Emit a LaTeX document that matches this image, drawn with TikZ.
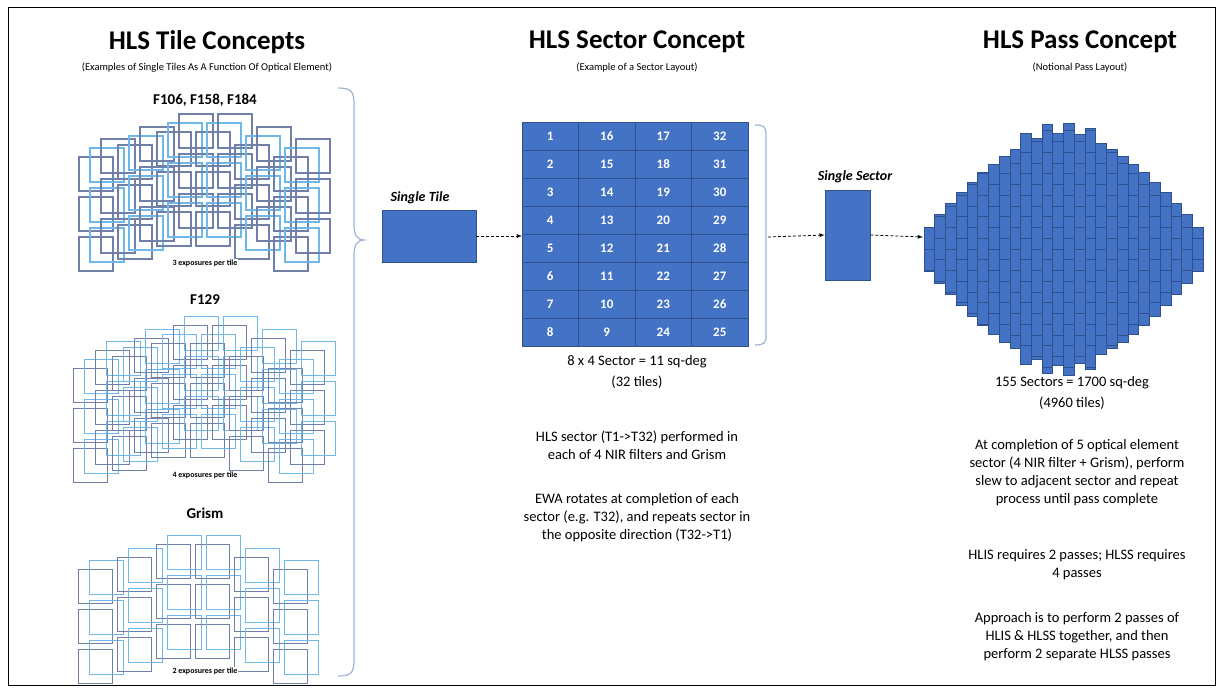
\documentclass[tikz,border=0pt]{standalone}
\usepackage{fontspec}
\setmainfont{Carlito}
\begin{document}
\begin{tikzpicture}[x=1pt,y=-1pt,
  dark/.style={draw=slate,line width=1.1pt},
  light/.style={draw=lightb,line width=1.1pt},
  blk/.style={fill=hlsblue,draw=hlsedge,line width=0.6pt},
  darr/.style={densely dashed,line width=0.8pt,-latex},
  body/.style={font=\fontsize{14.5}{18}\selectfont,align=center},
  ttl/.style={font=\fontsize{27}{30}\selectfont\bfseries},
  sub/.style={font=\fontsize{10.5}{12}\selectfont},
  flt/.style={font=\fontsize{15}{18}\selectfont\bfseries},
  expo/.style={font=\fontsize{8}{10}\selectfont\bfseries},
  lbl/.style={font=\fontsize{14}{16}\selectfont\bfseries\itshape},
  num/.style={font=\fontsize{13}{15}\selectfont\bfseries,text=white}]
\definecolor{hlsblue}{HTML}{4472C4}
\definecolor{hlsedge}{HTML}{2F528F}
\definecolor{slate}{HTML}{7080A8}
\definecolor{lightb}{HTML}{70B8E8}
\definecolor{brc}{HTML}{9FB3D6}
\useasboundingbox (0,0) rectangle (1223,693);
\draw[line width=1pt] (8,8) rectangle (1215,685);
% titles
\node[ttl] (t1) at (207,42) {HLS Tile Concepts};
\node[sub] (s1) at (207,68) {(Examples of Single Tiles As A Function Of Optical Element)};
\node[ttl] (t2) at (637,42) {HLS Sector Concept};
\node[sub] (s2) at (637,68) {(Example of a Sector Layout)};
\node[ttl] (t3) at (1080,42) {HLS Pass Concept};
\node[sub] (s3) at (1080,68) {(Notional Pass Layout)};
% tile patterns
\newcommand\TilePat[3]{% x0, y0, exposures
  \foreach \cc/\dy in {0/25,1/13,2/0,3/0,4/13,5/25}{
    \foreach \e in {1,...,#3}{
      \foreach \rr in {0,1,2}{
        \pgfmathsetmacro\tx{#1+\cc*39+(\e-1)*11-((#3-1)*5.5)}
        \pgfmathsetmacro\ty{#2+\dy+\rr*40-(\e-1)*9+((#3-1)*4.5)}
        \pgfmathtruncatemacro\odd{mod(\e,2)}
        \ifnum\odd=1
          \draw[dark] (\tx,\ty) rectangle ({\tx+34},{\ty+34});
        \else
          \draw[light] (\tx,\ty) rectangle ({\tx+34},{\ty+34});
        \fi
      }
    }
  }}
\node[flt] (f1) at (205,100) {F106, F158, F184};
\TilePat{90}{123}{3}
\node[expo,fill=white,inner sep=1pt] (e1) at (205,263) {3 exposures per tile};
\node[flt] (f2) at (205,300) {F129};
\TilePat{90}{330}{4}
\node[expo,fill=white,inner sep=1pt] (e2) at (205,475) {4 exposures per tile};
\node[flt] (f3) at (205,513) {Grism};
\TilePat{84}{540}{2}
\node[expo,fill=white,inner sep=1pt] (e3) at (205,671) {2 exposures per tile};
% brace
\draw[brc,line width=1.2pt] (338,88) .. controls (352,88) and (354,92) .. (354,105)
  -- (354,225) .. controls (354,236) and (358,240) .. (364,240)
  .. controls (358,240) and (354,244) .. (354,255)
  -- (354,660) .. controls (354,672) and (352,676) .. (338,676);
% single tile
\node[lbl] (stl) at (420,198) {Single Tile};
\node[blk,minimum width=94pt,minimum height=52pt,inner sep=0pt] (st) at (429,236) {};
% sector grid
\foreach \r/\a/\b/\cc/\d in {0/1/16/17/32,1/2/15/18/31,2/3/14/19/30,3/4/13/20/29,4/5/12/21/28,5/6/11/22/27,6/7/10/23/26,7/8/9/24/25}{
  \foreach \c/\n in {0/\a,1/\b,2/\cc,3/\d}{
    \node[blk,minimum width=56.5pt,minimum height=28pt,inner sep=0pt,num] (g\r\c) at ({522+28.25+\c*56.5},{122+14+\r*28}) {\n};
  }}
\coordinate (gl) at (522,236);
\draw[darr] (st.east) -- (gl);
\draw[brc,line width=1.2pt] (755,125) .. controls (764,125) and (766,127) .. (766,134) -- (766,336) .. controls (766,343) and (764,345) .. (755,345);
\coordinate (sb) at (768,237);
\node[body] (sc1) at (637,362) {8 x 4 Sector = 11 sq-deg};
\node[body] (sc2) at (637,382) {(32 tiles)};
\node[body] (p1) at (637,445) {HLS sector (T1->T32) performed in\\each of 4 NIR filters and Grism};
\node[body] (p2) at (637,518) {EWA rotates at completion of each\\sector (e.g. T32), and repeats sector in\\the opposite direction (T32->T1)};
% single sector
\node[lbl] (ssl) at (855,177) {Single Sector};
\node[blk,minimum width=45pt,minimum height=90pt,inner sep=0pt] (ss) at (847.5,235) {};
\draw[darr] (sb) -- (ss.west);
% pass
\foreach \i in {0,...,25}{
  \pgfmathsetmacro\dd{abs(\i-12.5)}
  \pgfmathtruncatemacro\pp{mod(\i,2)}
  \pgfmathsetmacro\H{116-94*((\dd-0.5)/12)^1.6+((\pp==1)&&(\dd<4)?10:0)}
  \pgfmathsetmacro\xl{924+\i*10.73}
  \begin{scope}
    \draw[blk] (\xl,{249-\H}) rectangle ({\xl+10.73},{249+\H});
    \clip (\xl,{249-\H}) rectangle ({\xl+10.73},{249+\H});
    \foreach \k in {-12,...,12}{
      \draw[hlsedge,line width=0.6pt] (\xl,{249+\k*21.5+\pp*10.75}) -- ++(10.73,0);
    }
  \end{scope}
}
\coordinate (pl) at (923,237);
\draw[darr] (ss.east) -- (pl);
\node[body] (q1) at (1072,383) {155 Sectors = 1700 sq-deg};
\node[body] (q2) at (1072,403) {(4960 tiles)};
\node[body] (q3) at (1077,473) {At completion of 5 optical element\\sector (4 NIR filter + Grism), perform\\slew to adjacent sector and repeat\\process until pass complete};
\node[body] (q4) at (1077,565) {HLIS requires 2 passes; HLSS requires\\4 passes};
\node[body] (q5) at (1077,637) {Approach is to perform 2 passes of\\HLIS \& HLSS together, and then\\perform 2 separate HLSS passes};
\end{tikzpicture}
\end{document}
